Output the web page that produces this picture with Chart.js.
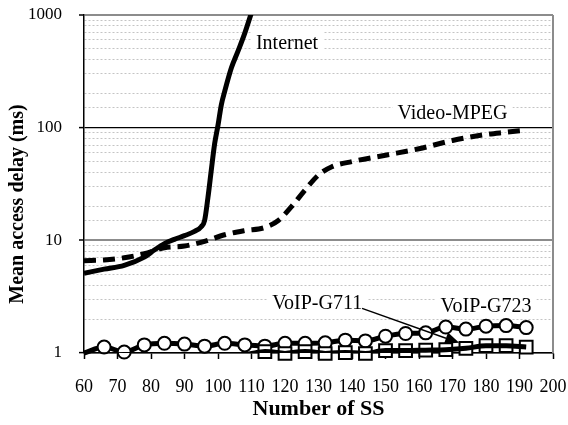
<!DOCTYPE html>
<html>
<head>
<meta charset="utf-8">
<script src="https://cdn.jsdelivr.net/npm/chart.js@4.4.1/dist/chart.umd.min.js"></script>
<style>
  html, body { margin: 0; padding: 0; background: #fff; }
  #wrap { width: 568px; height: 425px; }
</style>
</head>
<body>
<div id="wrap"><canvas id="delayChart"></canvas></div>
<script>
// VoIP series share the same SS steps
const voipSS = [60, 66, 72, 78, 84, 90, 96, 102, 108, 114, 120, 126, 132, 138, 144, 150, 156, 162, 168, 174, 180, 186, 192];
const g723Delay = [1.0, 1.13, 1.02, 1.18, 1.22, 1.2, 1.15, 1.22, 1.18, 1.15, 1.22, 1.22, 1.23, 1.3, 1.28, 1.41, 1.49, 1.51, 1.7, 1.63, 1.73, 1.75, 1.68];
const g711Delay = [0.96, 0.96, 0.97, 0.97, 0.97, 0.97, 0.97, 0.97, 0.97, 1.03, 0.99, 1.03, 0.99, 1.01, 0.99, 1.05, 1.05, 1.06, 1.07, 1.1, 1.16, 1.16, 1.13];

// Video-MPEG
const mpegSS = [60, 66, 72, 78, 84, 90, 96, 102, 108, 114, 118, 122, 126, 130, 134, 140, 150, 160, 170, 180, 186, 192];
const mpegDelay = [6.6, 6.7, 7.0, 7.6, 8.6, 8.9, 9.8, 11.2, 12.2, 13.0, 15, 20, 28, 38, 45, 50, 57, 65, 77, 87, 91, 95];

// Internet
const internetSS = [60, 66, 72, 78, 81, 84, 87, 90, 93, 95, 96, 97, 98, 99, 100, 101, 102, 104, 106, 108, 110];
const internetDelay = [5.1, 5.55, 6.0, 7.1, 8.2, 9.35, 10.2, 11, 12, 13.2, 15, 24, 42, 72, 105, 160, 210, 340, 480, 690, 1050];

const yMajor = [1, 10, 100, 1000];

// text labels (data coordinates)
const seriesLabels = [
  { text: "Internet", x: 120.6, y: 565 },
  { text: "Video-MPEG", x: 170, y: 136 },
  { text: "VoIP-G711", x: 129.6, y: 2.77 },
  { text: "VoIP-G723", x: 180, y: 2.6 },
];
const arrowFrom = { x: 143, y: 2.49 };
const arrowTo = { x: 172, y: 1.23 };

const yTitle = "Mean access delay (ms)";

const serif = "'Liberation Serif', 'Times New Roman', serif";

const toPoints = (xs, ys) => xs.map((x, i) => ({ x: x, y: ys[i] }));

const isMajor = (ctx) => ctx.tick && yMajor.includes(ctx.tick.value);

// no extra margins from tick labels
const noScalePadding = (scale) => {
  scale.paddingTop = 0;
  scale.paddingBottom = 0;
  scale.paddingLeft = 0;
  scale.paddingRight = 0;
};

// labels + arrow + right frame + y title
const annotationPlugin = {
  id: "annotations",
  afterDatasetsDraw(chart) {
    const { ctx, chartArea } = chart;
    const xs = chart.scales.x;
    const ys = chart.scales.y;
    ctx.save();

    // right frame
    ctx.strokeStyle = "#8c8c8c";
    ctx.lineWidth = 2;
    ctx.beginPath();
    ctx.moveTo(chartArea.right, chartArea.top);
    ctx.lineTo(chartArea.right, chartArea.bottom);
    ctx.stroke();

    ctx.font = "20px " + serif;
    ctx.textAlign = "center";
    ctx.textBaseline = "middle";
    seriesLabels.forEach((lb) => {
      const px = xs.getPixelForValue(lb.x);
      const py = ys.getPixelForValue(lb.y);
      const w = ctx.measureText(lb.text).width + 10;
      ctx.fillStyle = "#fff";
      ctx.fillRect(px - w / 2, py - 11, w, 22);
      ctx.fillStyle = "#000";
      ctx.fillText(lb.text, px, py + 1);
    });

    // arrow
    const x1 = xs.getPixelForValue(arrowFrom.x);
    const y1 = ys.getPixelForValue(arrowFrom.y);
    const x2 = xs.getPixelForValue(arrowTo.x);
    const y2 = ys.getPixelForValue(arrowTo.y);
    const ang = Math.atan2(y2 - y1, x2 - x1);
    const headLen = 14;
    const headW = 6;
    ctx.strokeStyle = "#000";
    ctx.lineWidth = 1.5;
    ctx.beginPath();
    ctx.moveTo(x1, y1);
    ctx.lineTo(x2 - Math.cos(ang) * headLen, y2 - Math.sin(ang) * headLen);
    ctx.stroke();
    ctx.fillStyle = "#000";
    ctx.beginPath();
    ctx.moveTo(x2, y2);
    ctx.lineTo(x2 - Math.cos(ang) * headLen - Math.sin(ang) * headW, y2 - Math.sin(ang) * headLen + Math.cos(ang) * headW);
    ctx.lineTo(x2 - Math.cos(ang) * headLen + Math.sin(ang) * headW, y2 - Math.sin(ang) * headLen - Math.cos(ang) * headW);
    ctx.closePath();
    ctx.fill();

    // y axis title, sits a bit below the plot centre like the original
    ctx.translate(18, (chartArea.top + chartArea.bottom) / 2 + 20);
    ctx.rotate(-Math.PI / 2);
    ctx.font = "bold 20px " + serif;
    ctx.fillStyle = "#000";
    ctx.fillText(yTitle, 0, 0);
    ctx.restore();
  },
};

const delayCanvas = document.getElementById("delayChart");
const delayChart = new Chart(delayCanvas, {
  type: "line",
  data: {
    datasets: [
      {
        label: "Internet",
        data: toPoints(internetSS, internetDelay),
        borderColor: "#000",
        borderWidth: 5,
        pointRadius: 0,
        cubicInterpolationMode: "monotone",
        clip: 0,
      },
      {
        label: "Video-MPEG",
        data: toPoints(mpegSS, mpegDelay),
        borderColor: "#000",
        borderWidth: 5,
        borderDash: [12, 7],
        pointRadius: 0,
        cubicInterpolationMode: "monotone",
        clip: 0,
      },
      {
        label: "VoIP-G711 line",
        data: toPoints(voipSS, g711Delay),
        borderColor: "#000",
        borderWidth: 5,
        pointRadius: 0,
        cubicInterpolationMode: "monotone",
        clip: 0,
      },
      {
        label: "VoIP-G711",
        data: toPoints(voipSS, g711Delay),
        showLine: false,
        pointStyle: "rect",
        pointRadius: (ctx) => (ctx.parsed && ctx.parsed.y >= 0.985 ? 9 : 0),
        pointBackgroundColor: "#fff",
        pointBorderColor: "#000",
        pointBorderWidth: 2,
        clip: false,
      },
      {
        label: "VoIP-G723",
        data: toPoints(voipSS, g723Delay),
        borderColor: "#000",
        borderWidth: 5,
        cubicInterpolationMode: "monotone",
        pointStyle: "circle",
        pointRadius: (ctx) => (ctx.parsed && ctx.parsed.x > 60 ? 6.5 : 0),
        pointBackgroundColor: "#fff",
        pointBorderColor: "#000",
        pointBorderWidth: 2,
        clip: false,
      },
    ],
  },
  options: {
    responsive: true,
    maintainAspectRatio: false,
    animation: false,
    layout: {
      autoPadding: false,
      padding: { top: 15, right: 15, bottom: 0, left: 0 },
    },
    plugins: {
      legend: { display: false },
      tooltip: { enabled: false },
    },
    scales: {
      x: {
        type: "linear",
        min: 60,
        max: 200,
        afterFit: (scale) => {
          scale.height = 72;
          noScalePadding(scale);
        },
        ticks: {
          stepSize: 10,
          autoSkip: false,
          maxRotation: 0,
          padding: 17,
          color: "#000",
          font: { family: serif, size: 18 },
        },
        grid: {
          drawOnChartArea: false,
          tickLength: 6,
          tickColor: "#000",
          tickWidth: 1.5,
        },
        border: { color: "#000", width: 1.5 },
        title: {
          display: true,
          text: "Number of SS",
          color: "#000",
          font: { family: serif, size: 22, weight: "bold" },
          padding: { top: 0, bottom: 2 },
        },
      },
      y: {
        type: "logarithmic",
        min: 1,
        max: 1000,
        afterFit: (scale) => {
          scale.width = 84;
          noScalePadding(scale);
        },
        ticks: {
          autoSkip: false,
          padding: 17,
          color: "#000",
          font: { family: serif, size: 17 },
          callback: (value) => (yMajor.includes(value) ? String(value) : ""),
        },
        grid: {
          color: (ctx) => {
            if (!isMajor(ctx)) return "#c4c4c4";
            return ctx.tick.value === 10 || ctx.tick.value === 1000 ? "#8c8c8c" : "#000";
          },
          lineWidth: (ctx) => {
            if (!isMajor(ctx)) return 1;
            return ctx.tick.value === 10 || ctx.tick.value === 1000 ? 2 : 1.2;
          },
          tickLength: 5,
          tickWidth: 1.5,
          tickColor: (ctx) => (isMajor(ctx) ? "#000" : "rgba(0,0,0,0)"),
        },
        border: {
          color: "#000",
          width: 1.5,
          dash: (ctx) => (ctx.tick && !yMajor.includes(ctx.tick.value) ? [2, 2] : []),
        },
        title: { display: false },
      },
    },
  },
  plugins: [annotationPlugin],
});
</script>
</body>
</html>
